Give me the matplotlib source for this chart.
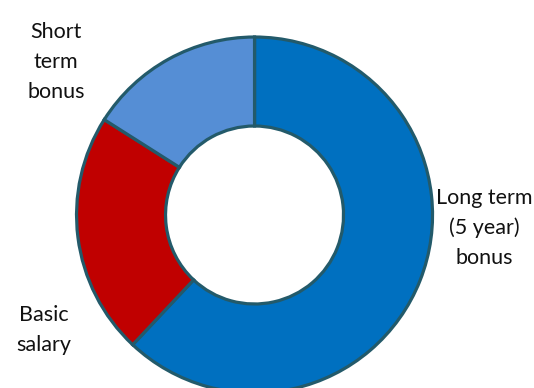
import matplotlib.pyplot as plt

# pay mix donut
labels = ['Long term\n(5 year)\nbonus', 'Basic\nsalary', 'Short\nterm\nbonus']
shares = [62, 22, 16]
colors = ['#0070C0', '#C00000', '#558ED5']

plt.rcParams['font.family'] = ['Lato', 'DejaVu Sans']

fig = plt.figure(figsize=(5.34, 3.88), dpi=100)
ax = fig.add_axes([0, 0, 1, 1])
ax.pie(shares, colors=colors, startangle=90, counterclock=False,
       wedgeprops=dict(width=0.5, edgecolor='#235A6A', linewidth=2.3))
ax.set_xlim(-1.430, 1.570)
ax.set_ylim(-0.972, 1.208)
ax.set_aspect('auto')
ax.axis('off')

label_pos = [(1.29, -0.073), (-1.183, -0.646), (-1.115, 0.86)]
for lab, (x, y) in zip(labels, label_pos):
    ax.text(x, y, lab, ha='center', va='center', fontsize=15.5,
            linespacing=1.6, color='#111111')

fig.savefig('out.png', dpi=100)
